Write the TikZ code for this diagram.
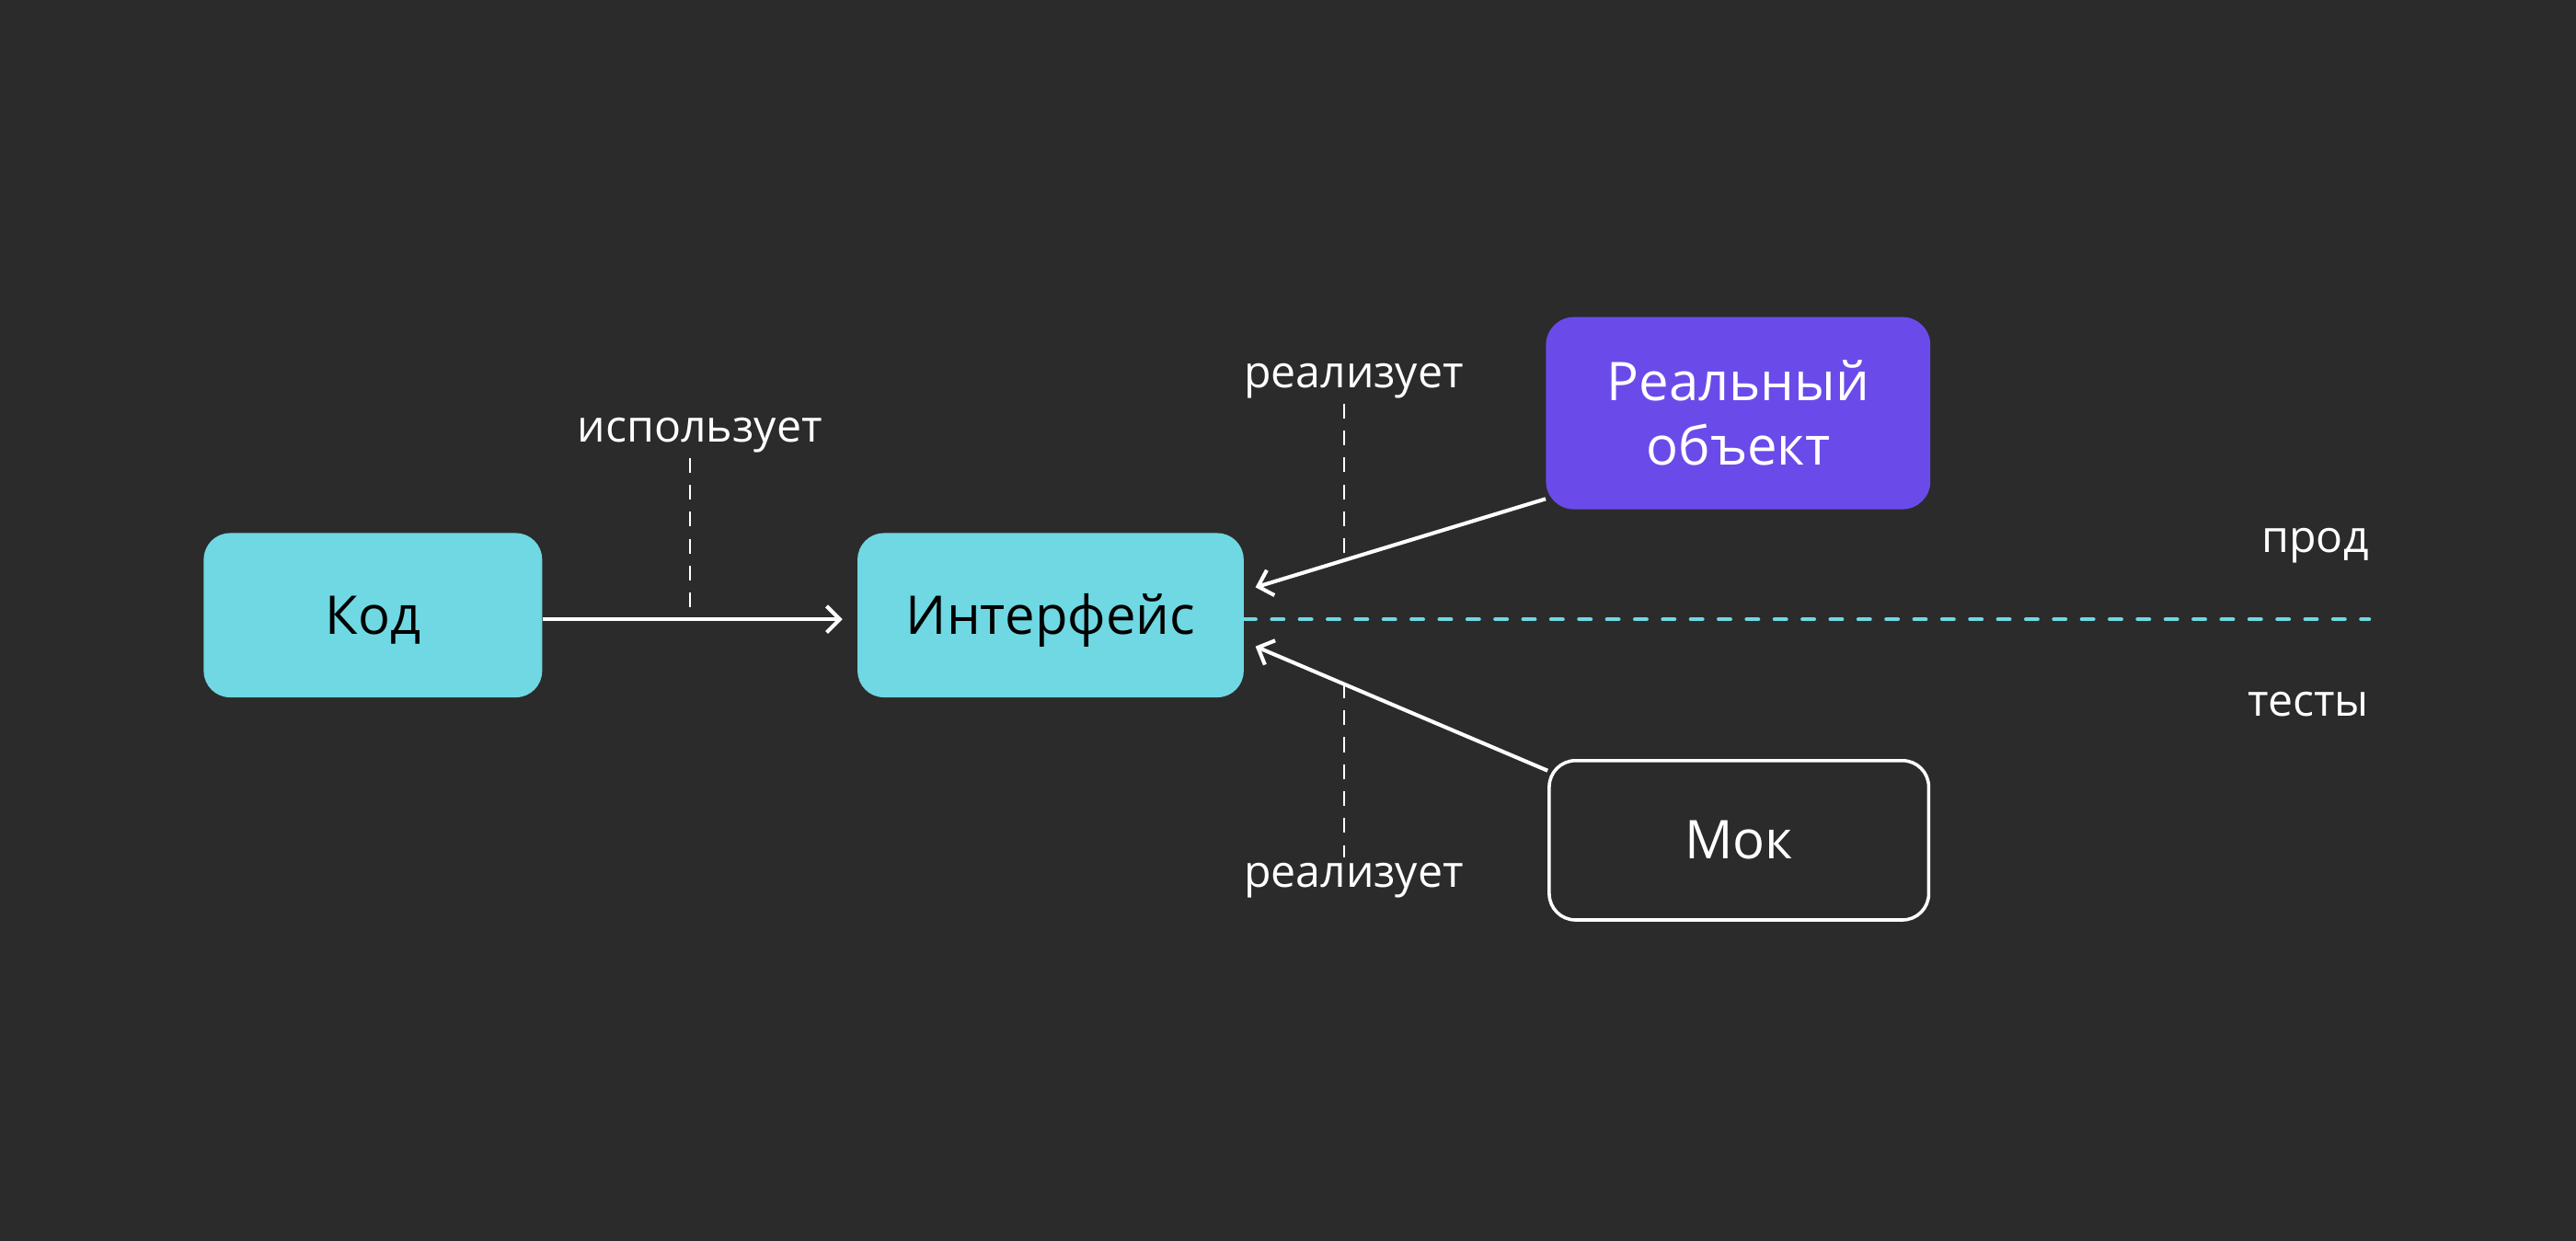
\documentclass[tikz,border=0pt]{standalone}
\usepackage{fontspec}
\setmainfont{Open Sans}
\usetikzlibrary{arrows.meta}
\definecolor{bg}{HTML}{2B2B2B}
\definecolor{aqua}{HTML}{6FD8E2}
\definecolor{violet}{HTML}{6A4BEA}

\begin{document}
\begin{tikzpicture}[x=1pt,y=-1pt]
    \tikzset{
    box/.style={rounded corners=16pt,inner sep=0pt,minimum height=100pt,font=\fontsize{32.5}{39}\selectfont},
    cbox/.style={box,fill=aqua,text=black,text height=23pt,text depth=0pt},
    pbox/.style={box,fill=violet,text=white,align=center,rounded corners=17pt,minimum width=234pt,minimum height=117pt},
    wbox/.style={box,draw=white,line width=2pt,fill=bg,text=white,minimum width=231pt,minimum height=97pt,text height=23pt,text depth=0pt},
    lbl/.style={inner sep=0pt,text=white,anchor=base,font=\fontsize{27}{31}\selectfont},
    c1/.style={white,line width=2.3pt,-{Straight Barb[length=8pt,width=16pt]}},
    c2/.style={white,line width=1.2pt,dash pattern=on 9pt off 7.4pt},
    c3/.style={aqua,line width=2.5pt,line cap=round,dash pattern=on 7pt off 10pt},
    }
    \useasboundingbox (0,0) rectangle (1568,755);
    \fill[bg] (-5,-5) rectangle (1573,760);

    \node[cbox,minimum width=206pt] (kod) at (227,374.5) {Код};
    \node[cbox,minimum width=235pt] (intf) at (639.5,374.5) {Интерфейс};
    \node[pbox] (real) at (1058,251.5) {Реальный\\объект};
    \node[wbox] (mock) at (1058.5,511.5) {Мок};

    \node[lbl] (use) at (426,269) {использует};
    \node[lbl] (impl1) at (824,236) {реализует};
    \node[lbl] (impl2) at (824,540) {реализует};
    \node[lbl,anchor=base east] (prod) at (1442,336) {прод};
    \node[lbl,anchor=base east] (test) at (1442,436) {тесты};

    \coordinate (t1) at ([xshift=7pt,yshift=17pt]intf.east);
    \coordinate (t2) at ([xshift=7pt,yshift=-19pt]intf.east);
    \coordinate (m1) at (420,377);
    \coordinate (m2) at (818,340);
    \coordinate (m3) at (818,416);
    \coordinate (d1) at (1442,377);

    \draw[c1,shorten >=9pt] ([yshift=-2.5pt]kod.east) -- ([yshift=-2.5pt]intf.west);
    \draw[c1] (real.204) -- (t1);
    \draw[c1] (mock.160) -- (t2);
    \draw[c3] ([yshift=-2.5pt]intf.east) -- (d1);

    \draw[c2] ([yshift=-3pt]m1 |- use.south) -- (m1);
    \draw[c2] ([yshift=-3pt]m2 |- impl1.south) -- (m2);
    \draw[c2] (m3) -- ([yshift=3pt]m3 |- impl2.north);
\end{tikzpicture}
\end{document}
